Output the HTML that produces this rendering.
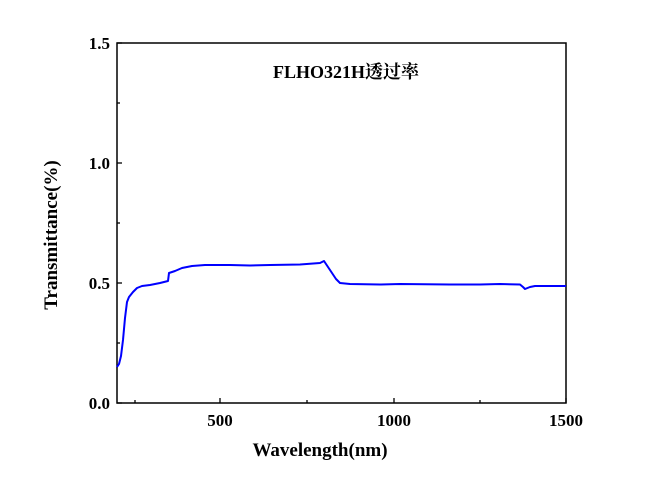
<!DOCTYPE html>
<html><head><meta charset="utf-8"><style>
body{margin:0;background:#fff;}
svg{display:block;font-family:"Liberation Serif","Noto Serif CJK SC",serif;font-weight:bold;}
</style></head><body>
<svg width="657" height="495" viewBox="0 0 657 495" xmlns="http://www.w3.org/2000/svg">
<rect x="117" y="43" width="449" height="360" fill="none" stroke="#000" stroke-width="1.5"/>
<g stroke="#000" stroke-width="1.3">
<line x1="117" y1="403" x2="122" y2="403"/><line x1="117" y1="283" x2="122" y2="283"/><line x1="117" y1="163" x2="122" y2="163"/><line x1="117" y1="43" x2="122" y2="43"/>
<line x1="117" y1="343" x2="120" y2="343"/><line x1="117" y1="223" x2="120" y2="223"/><line x1="117" y1="103" x2="120" y2="103"/>
<line x1="220" y1="403" x2="220" y2="398"/><line x1="394" y1="403" x2="394" y2="398"/><line x1="566" y1="403" x2="566" y2="398"/>
<line x1="135" y1="403" x2="135" y2="400"/><line x1="307" y1="403" x2="307" y2="400"/><line x1="480" y1="403" x2="480" y2="400"/>
</g>
<g font-size="17" text-anchor="end">
<text x="110" y="409">0.0</text><text x="110" y="289">0.5</text><text x="110" y="169">1.0</text><text x="110" y="49">1.5</text>
</g>
<g font-size="17" text-anchor="middle">
<text x="220" y="426">500</text><text x="394" y="426">1000</text><text x="566" y="426">1500</text>
</g>
<text x="320" y="456" font-size="19" text-anchor="middle">Wavelength(nm)</text>
<text transform="translate(57,235) rotate(-90)" font-size="19" text-anchor="middle">Transmittance(%)</text>
<text x="346" y="78" font-size="18" text-anchor="middle">FLHO321H透过率</text>
<polyline fill="none" stroke="#0000ff" stroke-width="2" stroke-linejoin="round" points="117,367 119,364 121,356 123,340 125,318 127,302 129,297 133,292 137,288 142,286 150,285 160,283 168,281 169,273 175,271 182,268 192,266 205,265 230,265 250,265.5 270,265 300,264.5 320,263 324,261 330,270 336,279 340,283 350,284 380,284.5 400,284 450,284.5 480,284.5 500,284 520,284.5 523,287 525,289 530,287 535,286 566,286"/>
</svg>
</body></html>
